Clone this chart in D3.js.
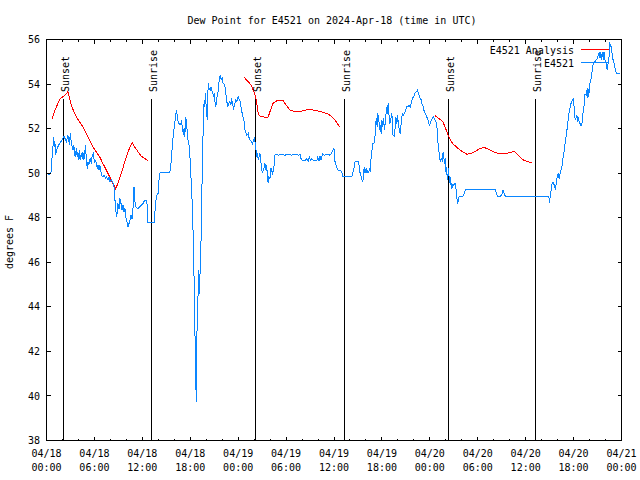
<!DOCTYPE html>
<html><head><meta charset="utf-8">
<script src="https://cdn.jsdelivr.net/npm/d3@7"></script>
<style>
body{margin:0;background:#fff;}
svg{display:block;}
text{font-family:"DejaVu Sans Mono","Liberation Mono",monospace;font-size:10px;fill:#000;}
</style></head>
<body>
<script>
const title = "Dew Point for E4521 on 2024-Apr-18 (time in UTC)";
const yLabel = "degrees F";
const seriesNames = ["E4521 Analysis", "E4521"];
const seriesColors = ["#ff0000", "#0a86ff"];
const startUTC = Date.UTC(2024, 3, 18, 0, 0);
const xDomainHours = [0, 72];
const yDomain = [38, 56];
const yTicks = [38, 40, 42, 44, 46, 48, 50, 52, 54, 56];
const xMajorTickHours = [0, 6, 12, 18, 24, 30, 36, 42, 48, 54, 60, 66, 72];
const sunsetHours = [2.17, 26.22, 50.35];
const sunriseHours = [13.21, 37.30, 61.27];

// observations: [hours since 04/18 00:00 UTC, dew point F]
const obsSeries = [
[0.20,49.94],[0.38,49.94],[0.59,50.06],[0.67,50.58],[0.79,51.06],[0.88,51.62],[0.96,51.18],[1.05,51.44],[1.13,50.81],[1.25,51.03],
[1.42,51.18],[1.63,51.33],[1.84,51.44],[2.05,51.56],[2.17,51.66],[2.26,51.60],[2.38,51.51],[2.47,51.41],[2.59,51.56],[2.68,51.71],
[2.76,51.48],[2.89,51.26],[2.97,51.78],[3.09,51.41],[3.22,51.18],[3.35,51.03],[3.43,51.26],[3.51,50.81],[3.64,50.74],[3.72,51.11],
[3.85,50.74],[3.93,50.96],[4.06,50.58],[4.14,51.03],[4.27,50.58],[4.35,50.88],[4.48,50.66],[4.56,50.96],[4.68,50.58],[4.77,50.88],
[4.89,51.26],[4.98,50.66],[5.10,50.21],[5.19,50.51],[5.31,50.36],[5.40,50.58],[5.52,50.66],[5.60,50.43],[5.73,50.81],[5.86,50.88],
[5.94,50.66],[6.02,50.51],[6.15,50.58],[6.27,50.43],[6.36,50.21],[6.44,50.36],[6.57,50.14],[6.65,50.36],[6.78,50.21],[6.86,49.91],
[7.07,49.84],[7.19,49.91],[7.40,49.76],[7.53,49.84],[7.70,49.69],[7.82,49.84],[7.95,49.61],[8.11,49.69],[8.24,49.61],[8.36,49.54],
[8.45,49.39],[8.53,48.94],[8.66,48.49],[8.74,48.04],[8.87,48.26],[8.95,48.64],[9.08,48.41],[9.20,48.86],[9.33,48.64],[9.45,48.34],
[9.58,48.56],[9.70,48.26],[9.83,48.41],[9.91,48.04],[10.04,47.89],[10.20,47.59],[10.33,47.74],[10.46,47.89],[10.58,48.11],[10.71,47.96],
[10.83,48.41],[10.96,49.39],[11.04,48.94],[11.13,48.49],[11.25,48.46],[11.46,48.41],[11.67,48.49],[11.88,48.56],[12.09,48.64],[12.30,48.79],
[12.51,48.79],[12.63,48.49],[12.71,47.77],[13.47,47.77],[13.55,48.11],[13.68,48.71],[13.80,49.01],[13.97,49.09],[14.10,49.76],[14.22,50.02],
[15.43,50.02],[15.56,50.29],[15.64,50.73],[15.77,51.26],[15.89,51.78],[16.06,52.23],[16.19,52.61],[16.27,52.83],[16.39,52.53],[16.48,52.31],
[16.60,52.23],[16.73,52.16],[16.90,52.31],[17.02,52.08],[17.15,51.71],[17.23,52.01],[17.31,51.63],[17.44,52.50],[17.56,52.23],[17.65,51.63],
[17.77,51.41],[17.90,51.18],[18.03,50.29],[18.15,49.39],[18.28,48.34],[18.40,46.76],[18.53,44.29],[18.61,42.35],[18.65,40.70],[18.69,41.15],
[18.74,39.72],[18.78,41.90],[18.86,43.09],[18.90,44.14],[18.99,44.59],[19.07,45.64],[19.11,44.89],[19.15,45.34],[19.20,44.59],[19.24,46.09],
[19.32,46.31],[19.41,48.34],[19.49,49.84],[19.62,52.08],[19.74,53.28],[19.82,52.98],[19.91,53.58],[20.03,52.68],[20.16,52.38],[20.24,54.03],
[20.37,53.81],[20.49,53.73],[20.58,53.88],[20.66,53.73],[20.79,53.66],[20.91,53.43],[21.00,53.58],[21.08,53.21],[21.21,52.98],[21.29,53.28],
[21.41,53.58],[21.50,53.66],[21.62,54.18],[21.75,54.41],[21.87,54.18],[22.00,54.26],[22.12,54.03],[22.25,54.00],[22.33,53.96],[22.46,53.58],
[22.58,53.21],[22.71,52.98],[22.84,53.13],[22.96,53.21],[23.09,53.06],[23.17,53.36],[23.30,53.13],[23.42,52.91],[23.50,52.98],[23.59,53.13],
[23.71,53.28],[23.84,53.21],[24.01,53.43],[24.13,53.31],[24.25,53.21],[24.42,52.83],[24.55,52.60],[24.76,52.30],[24.84,51.95],[24.97,51.81],
[25.09,51.71],[25.26,51.78],[25.38,51.56],[25.51,51.48],[25.68,51.41],[25.80,51.33],[25.93,51.48],[26.01,51.56],[26.10,51.41],[26.22,51.11],
[26.31,50.73],[26.39,50.88],[26.52,50.59],[26.60,50.73],[26.72,50.88],[26.81,50.66],[26.93,50.13],[27.06,50.06],[27.14,50.13],[27.27,50.28],
[27.35,50.43],[27.48,50.13],[27.56,50.36],[27.69,49.76],[27.77,49.54],[27.86,49.84],[27.98,49.76],[28.11,50.21],[28.19,50.13],[28.31,49.99],
[28.40,50.13],[28.52,50.36],[28.61,50.81],[28.82,50.84],[29.03,50.81],[29.44,50.84],[29.86,50.81],[30.28,50.84],[30.70,50.81],[31.12,50.84],
[31.54,50.81],[31.75,50.84],[31.87,50.66],[32.04,50.55],[32.37,50.55],[32.58,50.66],[32.79,50.55],[32.92,50.76],[33.04,50.58],[33.21,50.66],
[33.42,50.58],[33.63,50.55],[33.84,50.55],[33.96,50.70],[34.13,50.55],[34.25,50.76],[34.38,50.58],[34.46,50.70],[34.59,50.88],[34.80,50.81],
[35.09,50.84],[35.51,50.81],[35.80,50.96],[35.97,51.14],[36.05,50.96],[36.13,50.51],[36.26,50.36],[36.39,50.21],[36.55,50.13],[36.76,50.13],
[36.97,50.06],[37.10,49.86],[38.23,49.86],[38.35,49.99],[38.52,50.26],[38.64,50.51],[38.85,50.54],[39.06,50.51],[39.19,50.26],[39.27,49.99],
[39.40,49.84],[39.48,49.72],[39.61,49.61],[39.69,49.91],[39.78,50.26],[39.90,49.99],[40.03,50.21],[40.11,49.99],[40.23,50.14],[40.32,49.99],
[40.44,50.21],[40.53,50.06],[40.61,50.58],[40.74,50.96],[40.86,51.33],[40.95,51.33],[41.07,51.41],[41.20,51.93],[41.28,52.46],[41.41,52.08],
[41.49,52.68],[41.62,52.38],[41.70,51.93],[41.78,52.16],[41.91,51.78],[41.99,52.38],[42.12,52.08],[42.20,52.46],[42.33,51.93],[42.45,52.38],
[42.58,52.98],[42.66,52.68],[42.79,53.13],[42.87,52.68],[43.00,52.23],[43.12,52.46],[43.25,52.68],[43.37,51.71],[43.54,51.66],[43.67,52.08],
[43.75,52.53],[43.88,52.23],[43.96,52.61],[44.08,52.16],[44.21,51.86],[44.29,51.78],[44.41,52.23],[44.50,52.53],[44.63,52.68],[44.71,52.61],
[44.83,52.68],[44.96,52.83],[45.13,52.98],[45.25,52.98],[45.38,53.06],[45.55,52.98],[45.67,53.13],[45.80,53.36],[45.96,53.43],[46.13,53.58],
[46.30,53.66],[46.46,53.73],[46.63,53.51],[46.80,53.36],[46.93,53.28],[47.05,53.06],[47.18,52.98],[47.30,52.76],[47.43,52.68],[47.55,52.61],
[47.68,52.46],[47.80,52.38],[47.93,52.16],[48.05,52.23],[48.18,52.38],[48.30,52.46],[48.47,52.53],[48.64,52.38],[48.76,52.31],[48.89,52.08],
[48.97,51.56],[49.06,51.18],[49.18,50.88],[49.31,50.51],[49.44,50.66],[49.56,50.58],[49.64,50.88],[49.73,50.96],[49.81,50.43],[49.94,50.66],
[50.02,50.06],[50.10,50.28],[50.19,49.69],[50.27,49.84],[50.36,50.21],[50.44,49.54],[50.52,49.84],[50.61,49.61],[50.69,49.31],[50.77,49.54],
[50.86,49.39],[50.98,49.46],[51.11,49.54],[51.19,49.54],[51.32,49.16],[51.40,48.86],[51.48,48.64],[51.57,48.79],[51.65,48.94],[52.03,48.94],
[52.24,49.01],[52.36,49.16],[52.49,49.27],[56.21,49.27],[56.33,49.09],[56.50,48.94],[56.84,48.94],[57.05,49.09],[57.17,49.24],[57.30,49.09],
[57.47,48.95],[62.78,48.95],[62.90,48.94],[62.99,48.67],[63.11,49.09],[63.24,49.31],[63.32,49.57],[63.45,49.57],[63.53,49.51],[63.65,49.39],
[63.74,49.27],[63.86,49.69],[63.95,49.84],[64.07,49.96],[64.20,49.76],[64.28,49.91],[64.41,50.13],[64.57,50.36],[64.70,50.73],[64.78,50.88],
[64.91,51.26],[65.04,51.56],[65.12,51.86],[65.25,52.08],[65.33,52.46],[65.45,52.76],[65.62,53.06],[65.75,53.21],[65.87,53.28],[65.96,53.36],
[66.04,53.06],[66.13,52.68],[66.21,52.38],[66.29,52.46],[66.42,52.61],[66.50,52.31],[66.58,52.53],[66.71,52.31],[66.88,52.16],[67.04,52.16],
[67.13,52.61],[67.21,52.76],[67.30,52.98],[67.42,53.51],[67.55,53.51],[67.63,53.73],[67.71,53.36],[67.80,53.81],[67.88,53.43],[67.97,53.73],
[68.05,54.03],[68.13,54.11],[68.26,54.40],[68.39,54.78],[68.47,54.93],[68.55,55.00],[68.68,55.00],[68.80,55.08],[68.97,55.15],[69.10,55.30],
[69.22,55.45],[69.31,55.15],[69.39,55.45],[69.47,55.08],[69.60,55.45],[69.73,55.08],[69.81,55.45],[69.94,55.08],[70.06,54.93],[70.15,54.70],
[70.23,54.63],[70.32,54.93],[70.40,55.08],[70.48,55.38],[70.53,55.90],[70.57,55.68],[70.65,55.75],[70.74,55.60],[70.82,55.38],[70.91,55.15],
[70.99,55.00],[71.08,54.93],[71.16,54.78],[71.28,54.55],[71.41,54.48],[71.57,54.48],[71.83,54.45]
];

// analysis: three segments, null marks a gap
const anaSeries = [
[0.67,52.41],[1.00,52.76],[1.42,53.13],[1.63,53.31],[2.05,53.43],[2.34,53.51],[2.68,53.66],[2.89,53.36],[3.09,53.06],[3.43,52.76],
[3.72,52.53],[4.14,52.31],[4.56,52.08],[4.98,51.78],[5.40,51.48],[5.81,51.18],[6.23,50.96],[6.65,50.74],[7.07,50.43],[7.49,50.14],
[7.90,49.84],[8.32,49.54],[8.64,49.31],[8.95,49.54],[9.37,49.99],[9.79,50.51],[10.20,50.96],[10.73,51.37],[11.04,51.18],[11.46,50.96],
[11.88,50.76],[12.30,50.66],[12.71,50.55],
null,
[24.76,54.30],[25.05,54.18],[25.39,54.06],[25.68,53.91],[25.97,53.66],[26.22,53.36],[26.39,52.98],[26.51,52.68],[26.73,52.56],[27.14,52.53],
[27.56,52.50],[27.77,52.53],[27.98,52.76],[28.19,52.98],[28.40,53.16],[28.82,53.24],[29.45,53.28],[29.66,53.24],[29.86,53.13],[30.16,52.98],
[30.49,52.83],[30.91,52.79],[31.53,52.76],[31.95,52.79],[32.37,52.83],[32.79,52.86],[33.42,52.83],[34.05,52.79],[34.67,52.73],[35.30,52.65],
[35.72,52.53],[36.14,52.38],[36.43,52.23],[36.68,52.08],
null,
[48.68,52.58],[48.98,52.49],[49.31,52.41],[49.64,52.31],[49.85,52.11],[50.06,51.93],[50.27,51.71],[50.48,51.56],[50.69,51.41],[50.98,51.29],
[51.40,51.15],[51.82,51.03],[52.24,50.93],[52.66,50.85],[53.08,50.88],[53.50,50.94],[53.92,51.03],[54.33,51.11],[54.75,51.15],[55.17,51.11],
[55.59,51.03],[56.01,50.96],[56.43,50.90],[56.84,50.90],[57.26,50.90],[57.68,50.90],[58.10,50.93],[58.52,50.98],[58.73,50.94],[58.93,50.85],
[59.35,50.70],[59.77,50.58],[60.19,50.52],[60.60,50.48],[60.81,50.48]
];

const W = 640, H = 480;
const svg = d3.select("body").append("svg").attr("width", W).attr("height", H);

const x = d3.scaleLinear().domain(xDomainHours).range([46.5, 621.5]);
const y = d3.scaleLinear().domain(yDomain).range([440.5, 39.5]);
const px = v => Math.round(x(v) - 0.5) + 0.5;
const py = v => Math.round(y(v) - 0.5) + 0.5;

// title
svg.append("text").attr("x", 332).attr("y", 24).attr("text-anchor", "middle").text(title);
// y label
svg.append("text").attr("transform", "translate(13,242) rotate(-90)").attr("text-anchor", "middle").text(yLabel);

const g = svg.append("g").attr("shape-rendering", "crispEdges");

// sunrise / sunset markers
const sunEvents = sunsetHours.map(h => ({h, label: "Sunset"}))
  .concat(sunriseHours.map(h => ({h, label: "Sunrise"})));
sunEvents.forEach(e => {
  g.append("line").attr("x1", px(e.h)).attr("x2", px(e.h)).attr("y1", 99).attr("y2", 440)
    .attr("stroke", "#000").attr("stroke-width", 1);
  svg.append("text").attr("transform", `translate(${px(e.h) + 5.5},92) rotate(-90)`)
    .attr("text-anchor", "start").text(e.label);
});

// data lines
const line = d3.line().defined(d => d !== null).x(d => x(d[0])).y(d => y(d[1]));
g.append("path").datum(anaSeries).attr("d", line).attr("fill", "none")
  .attr("stroke", seriesColors[0]).attr("stroke-width", 1);
g.append("path").datum(obsSeries).attr("d", line).attr("fill", "none")
  .attr("stroke", seriesColors[1]).attr("stroke-width", 1);

// border
g.append("rect").attr("x", 46.5).attr("y", 39.5).attr("width", 575).attr("height", 401)
  .attr("fill", "none").attr("stroke", "#000").attr("stroke-width", 1);

// y ticks
yTicks.forEach(v => {
  g.append("line").attr("x1", 46.5).attr("x2", 50.5).attr("y1", py(v)).attr("y2", py(v)).attr("stroke", "#000");
  g.append("line").attr("x1", 617.5).attr("x2", 621.5).attr("y1", py(v)).attr("y2", py(v)).attr("stroke", "#000");
  svg.append("text").attr("x", 40).attr("y", y(v) + 3.6).attr("text-anchor", "end").text(v);
});

// x ticks
const minorHours = d3.range(xDomainHours[0], xDomainHours[1] + 0.001, 2);
minorHours.forEach(h => {
  const major = xMajorTickHours.includes(h);
  const len = major ? 4 : 2;
  g.append("line").attr("x1", px(h)).attr("x2", px(h)).attr("y1", 440.5).attr("y2", 440.5 - len).attr("stroke", "#000");
  g.append("line").attr("x1", px(h)).attr("x2", px(h)).attr("y1", 39.5).attr("y2", 39.5 + len).attr("stroke", "#000");
});
const fmtDay = d3.utcFormat("%m/%d"), fmtTime = d3.utcFormat("%H:%M");
xMajorTickHours.forEach(h => {
  const d = new Date(startUTC + h * 3600000);
  const t = svg.append("text").attr("text-anchor", "middle");
  t.append("tspan").attr("x", x(h)).attr("y", 457).text(fmtDay(d));
  t.append("tspan").attr("x", x(h)).attr("y", 471).text(fmtTime(d));
});

// legend
const legendRows = [{name: seriesNames[0], color: seriesColors[0], yText: 54, yLine: 49.5},
                    {name: seriesNames[1], color: seriesColors[1], yText: 67, yLine: 62.5}];
legendRows.forEach(r => {
  svg.append("text").attr("x", 574).attr("y", r.yText).attr("text-anchor", "end").text(r.name);
  g.append("line").attr("x1", 581).attr("x2", 609).attr("y1", r.yLine).attr("y2", r.yLine)
    .attr("stroke", r.color).attr("stroke-width", 1);
});
</script>
</body></html>
